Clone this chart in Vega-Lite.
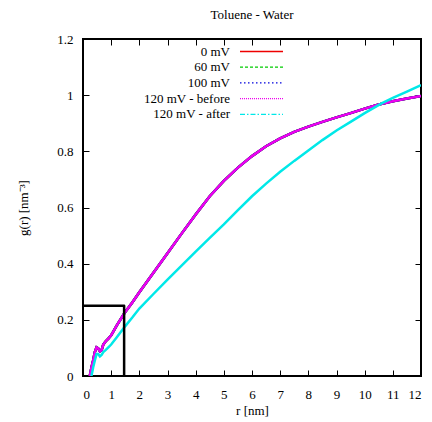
{
  "$schema": "https://vega.github.io/schema/vega-lite/v6.json",
  "width": 338,
  "height": 337,
  "autosize": "none",
  "padding": {"left": 83, "top": 39, "right": 11, "bottom": 46},
  "title": {"text": "Toluene - Water", "font": "Liberation Serif", "fontSize": 13, "fontWeight": "normal", "color": "black", "offset": 11},
  "config": {
    "view": {"stroke": "black", "strokeWidth": 2},
    "axis": {
      "labelFont": "Liberation Serif", "labelFontSize": 13, "labelColor": "black",
      "titleFont": "Liberation Serif", "titleFontSize": 13, "titleFontWeight": "normal", "titleColor": "black",
      "grid": false, "domain": false, "tickColor": "black", "tickWidth": 1, "tickSize": -6, "labelPadding": 16
    }
  },
  "datasets": {
    "curves": [
      {"series": "0 mV", "r": 0.24, "g": 0.000}, {"series": "0 mV", "r": 0.30, "g": 0.030}, {"series": "0 mV", "r": 0.36, "g": 0.055}, {"series": "0 mV", "r": 0.42, "g": 0.085}, {"series": "0 mV", "r": 0.48, "g": 0.102}, {"series": "0 mV", "r": 0.54, "g": 0.098}, {"series": "0 mV", "r": 0.60, "g": 0.088}, {"series": "0 mV", "r": 0.66, "g": 0.092}, {"series": "0 mV", "r": 0.72, "g": 0.112}, {"series": "0 mV", "r": 0.80, "g": 0.123}, {"series": "0 mV", "r": 0.90, "g": 0.133}, {"series": "0 mV", "r": 1.00, "g": 0.145}, {"series": "0 mV", "r": 1.20, "g": 0.180}, {"series": "0 mV", "r": 1.48, "g": 0.225}, {"series": "0 mV", "r": 1.75, "g": 0.262}, {"series": "0 mV", "r": 2.00, "g": 0.298}, {"series": "0 mV", "r": 2.50, "g": 0.368}, {"series": "0 mV", "r": 3.00, "g": 0.437}, {"series": "0 mV", "r": 3.50, "g": 0.507}, {"series": "0 mV", "r": 4.00, "g": 0.575}, {"series": "0 mV", "r": 4.50, "g": 0.640}, {"series": "0 mV", "r": 5.00, "g": 0.695}, {"series": "0 mV", "r": 5.50, "g": 0.742}, {"series": "0 mV", "r": 6.00, "g": 0.783}, {"series": "0 mV", "r": 6.50, "g": 0.818}, {"series": "0 mV", "r": 7.00, "g": 0.846}, {"series": "0 mV", "r": 7.50, "g": 0.869}, {"series": "0 mV", "r": 8.00, "g": 0.888}, {"series": "0 mV", "r": 8.50, "g": 0.905}, {"series": "0 mV", "r": 9.00, "g": 0.921}, {"series": "0 mV", "r": 9.50, "g": 0.936}, {"series": "0 mV", "r": 10.00, "g": 0.952}, {"series": "0 mV", "r": 10.50, "g": 0.967}, {"series": "0 mV", "r": 11.00, "g": 0.978}, {"series": "0 mV", "r": 11.50, "g": 0.988}, {"series": "0 mV", "r": 12.00, "g": 0.997},
      {"series": "60 mV", "r": 0.24, "g": 0.000}, {"series": "60 mV", "r": 0.30, "g": 0.030}, {"series": "60 mV", "r": 0.36, "g": 0.055}, {"series": "60 mV", "r": 0.42, "g": 0.085}, {"series": "60 mV", "r": 0.48, "g": 0.102}, {"series": "60 mV", "r": 0.54, "g": 0.098}, {"series": "60 mV", "r": 0.60, "g": 0.088}, {"series": "60 mV", "r": 0.66, "g": 0.092}, {"series": "60 mV", "r": 0.72, "g": 0.112}, {"series": "60 mV", "r": 0.80, "g": 0.123}, {"series": "60 mV", "r": 0.90, "g": 0.133}, {"series": "60 mV", "r": 1.00, "g": 0.145}, {"series": "60 mV", "r": 1.20, "g": 0.180}, {"series": "60 mV", "r": 1.48, "g": 0.225}, {"series": "60 mV", "r": 1.75, "g": 0.262}, {"series": "60 mV", "r": 2.00, "g": 0.298}, {"series": "60 mV", "r": 2.50, "g": 0.368}, {"series": "60 mV", "r": 3.00, "g": 0.437}, {"series": "60 mV", "r": 3.50, "g": 0.507}, {"series": "60 mV", "r": 4.00, "g": 0.575}, {"series": "60 mV", "r": 4.50, "g": 0.640}, {"series": "60 mV", "r": 5.00, "g": 0.695}, {"series": "60 mV", "r": 5.50, "g": 0.742}, {"series": "60 mV", "r": 6.00, "g": 0.783}, {"series": "60 mV", "r": 6.50, "g": 0.818}, {"series": "60 mV", "r": 7.00, "g": 0.846}, {"series": "60 mV", "r": 7.50, "g": 0.869}, {"series": "60 mV", "r": 8.00, "g": 0.888}, {"series": "60 mV", "r": 8.50, "g": 0.905}, {"series": "60 mV", "r": 9.00, "g": 0.921}, {"series": "60 mV", "r": 9.50, "g": 0.936}, {"series": "60 mV", "r": 10.00, "g": 0.952}, {"series": "60 mV", "r": 10.50, "g": 0.967}, {"series": "60 mV", "r": 11.00, "g": 0.978}, {"series": "60 mV", "r": 11.50, "g": 0.988}, {"series": "60 mV", "r": 12.00, "g": 0.997},
      {"series": "100 mV", "r": 0.24, "g": 0.000}, {"series": "100 mV", "r": 0.30, "g": 0.030}, {"series": "100 mV", "r": 0.36, "g": 0.055}, {"series": "100 mV", "r": 0.42, "g": 0.085}, {"series": "100 mV", "r": 0.48, "g": 0.102}, {"series": "100 mV", "r": 0.54, "g": 0.098}, {"series": "100 mV", "r": 0.60, "g": 0.088}, {"series": "100 mV", "r": 0.66, "g": 0.092}, {"series": "100 mV", "r": 0.72, "g": 0.112}, {"series": "100 mV", "r": 0.80, "g": 0.123}, {"series": "100 mV", "r": 0.90, "g": 0.133}, {"series": "100 mV", "r": 1.00, "g": 0.145}, {"series": "100 mV", "r": 1.20, "g": 0.180}, {"series": "100 mV", "r": 1.48, "g": 0.225}, {"series": "100 mV", "r": 1.75, "g": 0.262}, {"series": "100 mV", "r": 2.00, "g": 0.298}, {"series": "100 mV", "r": 2.50, "g": 0.368}, {"series": "100 mV", "r": 3.00, "g": 0.437}, {"series": "100 mV", "r": 3.50, "g": 0.507}, {"series": "100 mV", "r": 4.00, "g": 0.575}, {"series": "100 mV", "r": 4.50, "g": 0.640}, {"series": "100 mV", "r": 5.00, "g": 0.695}, {"series": "100 mV", "r": 5.50, "g": 0.742}, {"series": "100 mV", "r": 6.00, "g": 0.783}, {"series": "100 mV", "r": 6.50, "g": 0.818}, {"series": "100 mV", "r": 7.00, "g": 0.846}, {"series": "100 mV", "r": 7.50, "g": 0.869}, {"series": "100 mV", "r": 8.00, "g": 0.888}, {"series": "100 mV", "r": 8.50, "g": 0.905}, {"series": "100 mV", "r": 9.00, "g": 0.921}, {"series": "100 mV", "r": 9.50, "g": 0.936}, {"series": "100 mV", "r": 10.00, "g": 0.952}, {"series": "100 mV", "r": 10.50, "g": 0.967}, {"series": "100 mV", "r": 11.00, "g": 0.978}, {"series": "100 mV", "r": 11.50, "g": 0.988}, {"series": "100 mV", "r": 12.00, "g": 0.997},
      {"series": "120 mV - before", "r": 0.24, "g": 0.000}, {"series": "120 mV - before", "r": 0.30, "g": 0.030}, {"series": "120 mV - before", "r": 0.36, "g": 0.055}, {"series": "120 mV - before", "r": 0.42, "g": 0.085}, {"series": "120 mV - before", "r": 0.48, "g": 0.102}, {"series": "120 mV - before", "r": 0.54, "g": 0.098}, {"series": "120 mV - before", "r": 0.60, "g": 0.088}, {"series": "120 mV - before", "r": 0.66, "g": 0.092}, {"series": "120 mV - before", "r": 0.72, "g": 0.112}, {"series": "120 mV - before", "r": 0.80, "g": 0.123}, {"series": "120 mV - before", "r": 0.90, "g": 0.133}, {"series": "120 mV - before", "r": 1.00, "g": 0.145}, {"series": "120 mV - before", "r": 1.20, "g": 0.180}, {"series": "120 mV - before", "r": 1.48, "g": 0.225}, {"series": "120 mV - before", "r": 1.75, "g": 0.262}, {"series": "120 mV - before", "r": 2.00, "g": 0.298}, {"series": "120 mV - before", "r": 2.50, "g": 0.368}, {"series": "120 mV - before", "r": 3.00, "g": 0.437}, {"series": "120 mV - before", "r": 3.50, "g": 0.507}, {"series": "120 mV - before", "r": 4.00, "g": 0.575}, {"series": "120 mV - before", "r": 4.50, "g": 0.640}, {"series": "120 mV - before", "r": 5.00, "g": 0.695}, {"series": "120 mV - before", "r": 5.50, "g": 0.742}, {"series": "120 mV - before", "r": 6.00, "g": 0.783}, {"series": "120 mV - before", "r": 6.50, "g": 0.818}, {"series": "120 mV - before", "r": 7.00, "g": 0.846}, {"series": "120 mV - before", "r": 7.50, "g": 0.869}, {"series": "120 mV - before", "r": 8.00, "g": 0.888}, {"series": "120 mV - before", "r": 8.50, "g": 0.905}, {"series": "120 mV - before", "r": 9.00, "g": 0.921}, {"series": "120 mV - before", "r": 9.50, "g": 0.936}, {"series": "120 mV - before", "r": 10.00, "g": 0.952}, {"series": "120 mV - before", "r": 10.50, "g": 0.967}, {"series": "120 mV - before", "r": 11.00, "g": 0.978}, {"series": "120 mV - before", "r": 11.50, "g": 0.988}, {"series": "120 mV - before", "r": 12.00, "g": 0.997},
      {"series": "120 mV - after", "r": 0.30, "g": 0.000}, {"series": "120 mV - after", "r": 0.36, "g": 0.030}, {"series": "120 mV - after", "r": 0.42, "g": 0.055}, {"series": "120 mV - after", "r": 0.48, "g": 0.078}, {"series": "120 mV - after", "r": 0.54, "g": 0.078}, {"series": "120 mV - after", "r": 0.60, "g": 0.070}, {"series": "120 mV - after", "r": 0.66, "g": 0.075}, {"series": "120 mV - after", "r": 0.72, "g": 0.085}, {"series": "120 mV - after", "r": 0.80, "g": 0.092}, {"series": "120 mV - after", "r": 0.90, "g": 0.102}, {"series": "120 mV - after", "r": 1.00, "g": 0.112}, {"series": "120 mV - after", "r": 1.20, "g": 0.138}, {"series": "120 mV - after", "r": 1.48, "g": 0.175}, {"series": "120 mV - after", "r": 1.75, "g": 0.208}, {"series": "120 mV - after", "r": 2.00, "g": 0.240}, {"series": "120 mV - after", "r": 2.50, "g": 0.292}, {"series": "120 mV - after", "r": 3.00, "g": 0.343}, {"series": "120 mV - after", "r": 3.50, "g": 0.393}, {"series": "120 mV - after", "r": 4.00, "g": 0.443}, {"series": "120 mV - after", "r": 4.50, "g": 0.492}, {"series": "120 mV - after", "r": 5.00, "g": 0.540}, {"series": "120 mV - after", "r": 5.50, "g": 0.591}, {"series": "120 mV - after", "r": 6.00, "g": 0.640}, {"series": "120 mV - after", "r": 6.50, "g": 0.685}, {"series": "120 mV - after", "r": 7.00, "g": 0.727}, {"series": "120 mV - after", "r": 7.50, "g": 0.766}, {"series": "120 mV - after", "r": 8.00, "g": 0.803}, {"series": "120 mV - after", "r": 8.50, "g": 0.840}, {"series": "120 mV - after", "r": 9.00, "g": 0.874}, {"series": "120 mV - after", "r": 9.50, "g": 0.905}, {"series": "120 mV - after", "r": 10.00, "g": 0.936}, {"series": "120 mV - after", "r": 10.60, "g": 0.971}, {"series": "120 mV - after", "r": 11.00, "g": 0.990}, {"series": "120 mV - after", "r": 11.50, "g": 1.013}, {"series": "120 mV - after", "r": 12.00, "g": 1.036}
    ],
    "box": [
      {"step": 1, "r": 0, "g": 0.25},
      {"step": 2, "r": 1.46, "g": 0.25},
      {"step": 3, "r": 1.46, "g": 0}
    ]
  },
  "layer": [
    {
      "data": {"name": "curves"},
      "mark": {"type": "line", "strokeWidth": 2.5, "clip": true},
      "encoding": {
        "x": {"field": "r", "type": "quantitative", "scale": {"domain": [0, 12], "nice": false, "zero": false},
              "axis": {"orient": "bottom", "title": "r [nm]", "values": [0,1,2,3,4,5,6,7,8,9,10,11,12], "labelPadding": 18, "titlePadding": 3}},
        "y": {"field": "g", "type": "quantitative", "scale": {"domain": [0, 1.2], "nice": false},
              "axis": {"orient": "left", "title": "g(r) [nm⁻³]", "format": "~g", "values": [0,0.2,0.4,0.6,0.8,1,1.2], "titlePadding": 26}},
        "color": {"field": "series", "type": "nominal",
          "scale": {"domain": ["0 mV", "60 mV", "100 mV", "120 mV - before", "120 mV - after"],
                    "range": ["#ee0000", "#00cc00", "#0000dd", "#ee00ee", "#00e8e8"]},
          "legend": {
            "orient": "none", "legendX": 157, "legendY": 6, "title": null, "padding": 0,
            "symbolType": "stroke", "symbolSize": 1849, "symbolStrokeWidth": 1.3, "clipHeight": 13,
            "labelAlign": "right", "labelOffset": -55, "labelFont": "Liberation Serif", "labelFontSize": 13,
            "labelColor": "black", "labelLimit": 0, "rowPadding": 1.7,
            "encode": {
              "entries": {"update": {"clip": {"value": false}, "width": {"value": 46}, "height": {"value": 13}}},
              "symbols": {"update": {
                "shape": {"value": "stroke"}, "size": {"value": 1849}, "x": {"value": 21.5}, "y": {"value": 6.5},
                "stroke": {"signal": "scale('color', datum.value)"}, "fill": {"value": "transparent"},
                "opacity": {"value": 1}, "strokeOpacity": {"value": 1},
                "strokeWidth": {"value": 1.3},
                "strokeDash": {"signal": "datum.value == '60 mV' ? [3,2] : datum.value == '100 mV' ? [1.5,2.5] : datum.value == '120 mV - before' ? [1,1] : datum.value == '120 mV - after' ? [5,2,1.5,2] : []"}}}
            }
          }
        }
      }
    },
    {
      "data": {"name": "box"},
      "mark": {"type": "line", "color": "black", "strokeWidth": 2.5, "strokeJoin": "round"},
      "encoding": {
        "x": {"field": "r", "type": "quantitative", "axis": {"orient": "top", "labels": false, "title": null, "values": [0,1,2,3,4,5,6,7,8,9,10,11,12]}},
        "y": {"field": "g", "type": "quantitative", "axis": {"orient": "right", "labels": false, "title": null, "values": [0,0.2,0.4,0.6,0.8,1,1.2]}},
        "order": {"field": "step"}
      }
    }
  ],
  "resolve": {"axis": {"x": "independent", "y": "independent"}}
}
